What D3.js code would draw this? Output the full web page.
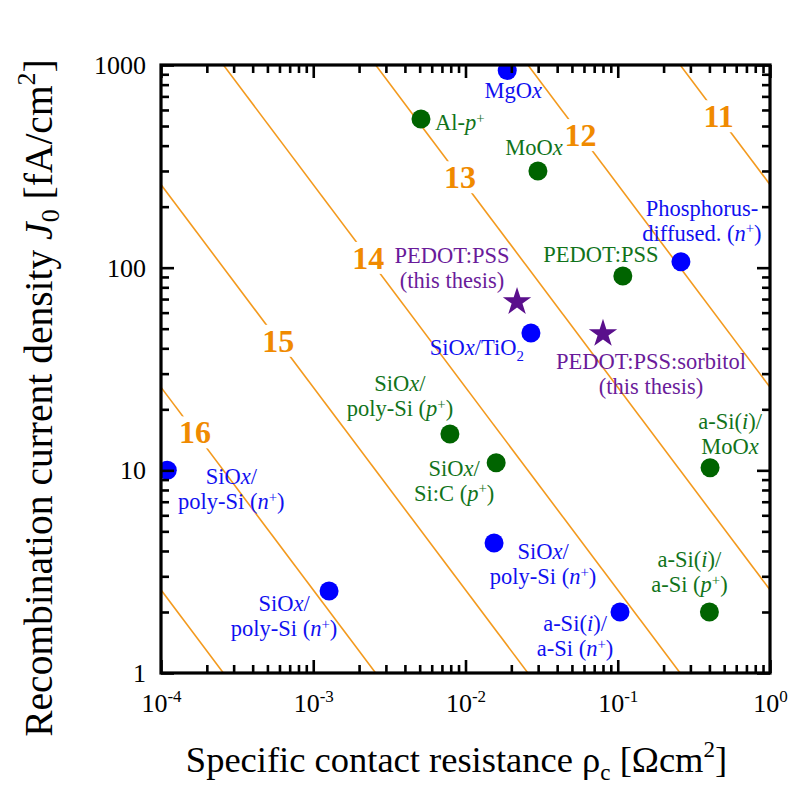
<!DOCTYPE html>
<html>
<head>
<meta charset="utf-8">
<script src="https://cdn.jsdelivr.net/npm/d3@7"></script>
<style>
  body { margin: 0; background: #fff; }
  svg { display: block; }
</style>
</head>
<body>
<svg id="chart" width="797" height="791"></svg>
<script>
// ---- data -------------------------------------------------------------
const xDomain = [1e-4, 1];          // specific contact resistance, Ohm cm^2
const yDomain = [1, 1000];          // recombination current density, fA/cm^2
const xMajorTicks = [1e-4, 1e-3, 1e-2, 1e-1, 1];
const xTickExponents = ["-4", "-3", "-2", "-1", "0"];
const yMajorTicks = [1, 10, 100, 1000];
const yTickLabels = ["1", "10", "100", "1000"];

// iso-selectivity lines S10 = log10(Vth / (rho_c * J0))
const thermalVoltage = 0.0257;      // V
const selectivityLevels = [11, 12, 13, 14, 15, 16, 17];
const selectivityLabelLevels = [11, 12, 13, 14, 15, 16];
const selectivityLabelRho = [0.46, 0.057, 0.0092, 0.0023, 0.00059, 0.000167];

// electron-selective contacts (blue)
const electronRho = [0.0188, 0.26, 0.0269, 1.1e-4, 1.27e-3, 0.0154, 0.1035];
const electronJ0 = [940, 107, 47.6, 10, 2.54, 4.38, 2.0];
const electronLabels = [
  ["MgO*x*"],
  ["Phosphorus-", "diffused. (*n*^+^)"],
  ["SiO*x*/TiO~2~"],
  ["SiO*x*/", "poly-Si (*n*^+^)"],
  ["SiO*x*/", "poly-Si (*n*^+^)"],
  ["SiO*x*/", "poly-Si (*n*^+^)"],
  ["a-Si(*i*)/", "a-Si (*n*^+^)"]
];

// hole-selective contacts (green)
const holeRho = [5.1e-3, 0.0299, 0.108, 7.9e-3, 0.0159, 0.404, 0.40];
const holeJ0 = [541, 300, 91, 15.1, 10.9, 10.3, 2.0];
const holeLabels = [
  ["Al-*p*^+^"],
  ["MoO*x*"],
  ["PEDOT:PSS"],
  ["SiO*x*/", "poly-Si (*p*^+^)"],
  ["SiO*x*/", "Si:C (*p*^+^)"],
  ["a-Si(*i*)/", "MoO*x*"],
  ["a-Si(*i*)/", "a-Si (*p*^+^)"]
];

// contacts from this work (purple stars)
const thesisRho = [0.0218, 0.080];
const thesisJ0 = [69, 48];
const thesisLabels = [
  ["PEDOT:PSS", "(this thesis)"],
  ["PEDOT:PSS:sorbitol", "(this thesis)"]
];

// ---- layout -----------------------------------------------------------
const plot = { left: 161, right: 770, top: 65, bottom: 673 };
const serif = "'Liberation Serif', 'Times New Roman', serif";
const colors = {
  axis: "#000",
  line: "#F39A1E",
  lineLabel: "#F08A00",
  electron: "#0000FF",
  electronText: "#1010F0",
  hole: "#006400",
  holeText: "#11731A",
  thesis: "#5A0F8C",
  thesisText: "#6A1B9A"
};
// label offsets (px from the marker centre to the first baseline)
const electronLabelOffsets = [[6, 28], [21, -46], [-54, 22], [64, 14], [-45, 20], [49, 16], [-45, 19]];
const holeLabelOffsets = [[14, 11, "start"], [-4, -16], [-22, -14], [-50, -43], [-42, 13], [20, -39], [-20, -45]];
const thesisLabelOffsets = [[-65, -37], [48, 37]];
const labelLineHeight = 25;
const labelFontSize = 22.5;

const svg = d3.select("#chart");

const x = d3.scaleLog().domain(xDomain).range([plot.left, plot.right]);
const y = d3.scaleLog().domain(yDomain).range([plot.bottom, plot.top]);

svg.append("defs").append("clipPath").attr("id", "plot-clip")
  .append("rect")
  .attr("x", plot.left).attr("y", plot.top)
  .attr("width", plot.right - plot.left).attr("height", plot.bottom - plot.top);

// small markup: *italic*, ^superscript^, ~subscript~
function richText(textSel, str, size) {
  const parts = str.match(/(\*[^*]+\*|\^[^^]+\^|~[^~]+~|[^*^~]+)/g) || [];
  let shift = 0;
  parts.forEach(p => {
    const t = textSel.append("tspan");
    let target = 0, content = p, small = false;
    if (p[0] === "*") { content = p.slice(1, -1); t.attr("font-style", "italic"); }
    else if (p[0] === "^") { content = p.slice(1, -1); target = -0.33 * size; small = true; }
    else if (p[0] === "~") { content = p.slice(1, -1); target = 0.25 * size; small = true; }
    if (small) t.attr("font-size", size * 0.66);
    const dy = target - shift;
    if (dy !== 0) t.attr("dy", dy);
    shift = target;
    t.text(content);
  });
}

// ---- iso-selectivity lines ---------------------------------------------
const linesG = svg.append("g").attr("clip-path", "url(#plot-clip)");
const lineGen = d3.line().x(d => x(d[0])).y(d => y(d[1]));
selectivityLevels.forEach(s => {
  const c = thermalVoltage * Math.pow(10, 15 - s);  // rho_c * J0 in Ohm cm^2 * fA/cm^2
  const pts = [1e-6, 10].map(r => [r, c / r]);
  linesG.append("path")
    .attr("d", lineGen(pts))
    .attr("fill", "none")
    .attr("stroke", colors.line)
    .attr("stroke-width", 1.6);
});

const lineLabelG = svg.append("g");
selectivityLabelLevels.forEach((s, i) => {
  const c = thermalVoltage * Math.pow(10, 15 - s);
  const r = selectivityLabelRho[i];
  const cx = x(r), cy = y(c / r);
  lineLabelG.append("rect")
    .attr("x", cx - 20).attr("y", cy - 16)
    .attr("width", 40).attr("height", 32)
    .attr("fill", "#fff");
  lineLabelG.append("text")
    .attr("x", cx).attr("y", cy).attr("dy", "0.34em")
    .attr("text-anchor", "middle")
    .attr("font-family", serif)
    .attr("font-weight", "bold")
    .attr("font-size", 32)
    .attr("fill", colors.lineLabel)
    .text(s);
});

// ---- markers -----------------------------------------------------------
const marksG = svg.append("g").attr("clip-path", "url(#plot-clip)");
function drawCircles(rho, j0, fill) {
  marksG.selectAll(null).data(d3.zip(rho, j0)).join("circle")
    .attr("cx", d => x(d[0])).attr("cy", d => y(d[1]))
    .attr("r", 9.5).attr("fill", fill);
}
drawCircles(electronRho, electronJ0, colors.electron);
drawCircles(holeRho, holeJ0, colors.hole);
const star = d3.symbol().type(d3.symbolStar).size(250);
marksG.selectAll(null).data(d3.zip(thesisRho, thesisJ0)).join("path")
  .attr("d", star)
  .attr("transform", d => `translate(${x(d[0])},${y(d[1]) + 1.5})`)
  .attr("fill", colors.thesis);

// ---- marker labels -----------------------------------------------------
const labelsG = svg.append("g");
function drawLabels(rho, j0, labels, offsets, fill) {
  labels.forEach((lines, i) => {
    const [dx, dy, anchor] = offsets[i];
    const px = x(rho[i]) + dx, py = y(j0[i]) + dy;
    lines.forEach((ln, k) => {
      const t = labelsG.append("text")
        .attr("x", px).attr("y", py + k * labelLineHeight)
        .attr("text-anchor", anchor || "middle")
        .attr("font-family", serif)
        .attr("font-size", labelFontSize)
        .attr("fill", fill);
      richText(t, ln, labelFontSize);
    });
  });
}
drawLabels(electronRho, electronJ0, electronLabels, electronLabelOffsets, colors.electronText);
drawLabels(holeRho, holeJ0, holeLabels, holeLabelOffsets, colors.holeText);
drawLabels(thesisRho, thesisJ0, thesisLabels, thesisLabelOffsets, colors.thesisText);

// ---- axes --------------------------------------------------------------
const minorOf = (domain) => {
  const out = [];
  for (let e = Math.round(Math.log10(domain[0])); e < Math.round(Math.log10(domain[1])); e++) {
    for (let m = 2; m <= 9; m++) out.push(m * Math.pow(10, e));
  }
  return out;
};
const xMinor = minorOf(xDomain), yMinor = minorOf(yDomain);
const majorLen = 13, minorLen = 8;

function styleAxis(g) {
  g.select(".domain").remove();
  g.selectAll(".tick line").attr("stroke", colors.axis).attr("stroke-width", 2.6);
}

// bottom
svg.append("g").attr("transform", `translate(0,${plot.bottom})`)
  .call(d3.axisBottom(x).tickValues(xMinor).tickSize(-minorLen).tickFormat(""))
  .call(styleAxis);
const xAxisG = svg.append("g").attr("transform", `translate(0,${plot.bottom})`)
  .call(d3.axisBottom(x).tickValues(xMajorTicks).tickSize(-majorLen).tickPadding(20.5))
  .call(styleAxis);
xAxisG.selectAll(".tick text").each(function (d, i) {
  const t = d3.select(this).text(null)
    .attr("font-family", serif).attr("font-size", 26).attr("fill", "#000");
  t.append("tspan").text("10");
  t.append("tspan").attr("font-size", 17).attr("dy", -10).text(xTickExponents[i]);
});
// top
svg.append("g").attr("transform", `translate(0,${plot.top})`)
  .call(d3.axisTop(x).tickValues(xMinor).tickSize(-minorLen).tickFormat(""))
  .call(styleAxis);
svg.append("g").attr("transform", `translate(0,${plot.top})`)
  .call(d3.axisTop(x).tickValues(xMajorTicks).tickSize(-majorLen).tickFormat(""))
  .call(styleAxis);
// left
svg.append("g").attr("transform", `translate(${plot.left},0)`)
  .call(d3.axisLeft(y).tickValues(yMinor).tickSize(-minorLen).tickFormat(""))
  .call(styleAxis);
const yAxisG = svg.append("g").attr("transform", `translate(${plot.left},0)`)
  .call(d3.axisLeft(y).tickValues(yMajorTicks).tickSize(-majorLen).tickPadding(15)
    .tickFormat((d, i) => yTickLabels[i]))
  .call(styleAxis);
yAxisG.selectAll(".tick text")
  .attr("font-family", serif).attr("font-size", 26).attr("fill", "#000").attr("dy", "0.33em");
// right
svg.append("g").attr("transform", `translate(${plot.right},0)`)
  .call(d3.axisRight(y).tickValues(yMinor).tickSize(-minorLen).tickFormat(""))
  .call(styleAxis);
svg.append("g").attr("transform", `translate(${plot.right},0)`)
  .call(d3.axisRight(y).tickValues(yMajorTicks).tickSize(-majorLen).tickFormat(""))
  .call(styleAxis);

// frame
svg.append("rect")
  .attr("x", plot.left).attr("y", plot.top)
  .attr("width", plot.right - plot.left).attr("height", plot.bottom - plot.top)
  .attr("fill", "none").attr("stroke", colors.axis).attr("stroke-width", 3.2);

// ---- axis titles ---------------------------------------------------------
const xTitle = svg.append("text")
  .attr("x", (185 + 728) / 2).attr("y", 772)
  .attr("text-anchor", "middle")
  .attr("font-family", serif).attr("font-size", 36.5).attr("fill", "#000");
xTitle.append("tspan").text("Specific contact resistance ρ");
xTitle.append("tspan").attr("font-size", 23).attr("dy", 8).text("c");
xTitle.append("tspan").attr("dy", -8).text(" [Ωcm");
xTitle.append("tspan").attr("font-size", 23).attr("dy", -15).text("2");
xTitle.append("tspan").attr("dy", 15).text("]");

const yTitle = svg.append("text")
  .attr("transform", "translate(52,398) rotate(-90)")
  .attr("text-anchor", "middle")
  .attr("font-family", serif).attr("font-size", 39.5).attr("fill", "#000");
yTitle.append("tspan").text("Recombination current density ");
yTitle.append("tspan").attr("font-style", "italic").text("J");
yTitle.append("tspan").attr("font-size", 26).attr("dy", 7).text("0");
yTitle.append("tspan").attr("dy", -7).text(" [fA/cm");
yTitle.append("tspan").attr("font-size", 26).attr("dy", -17).text("2");
yTitle.append("tspan").attr("dy", 17).text("]");
</script>
</body>
</html>
